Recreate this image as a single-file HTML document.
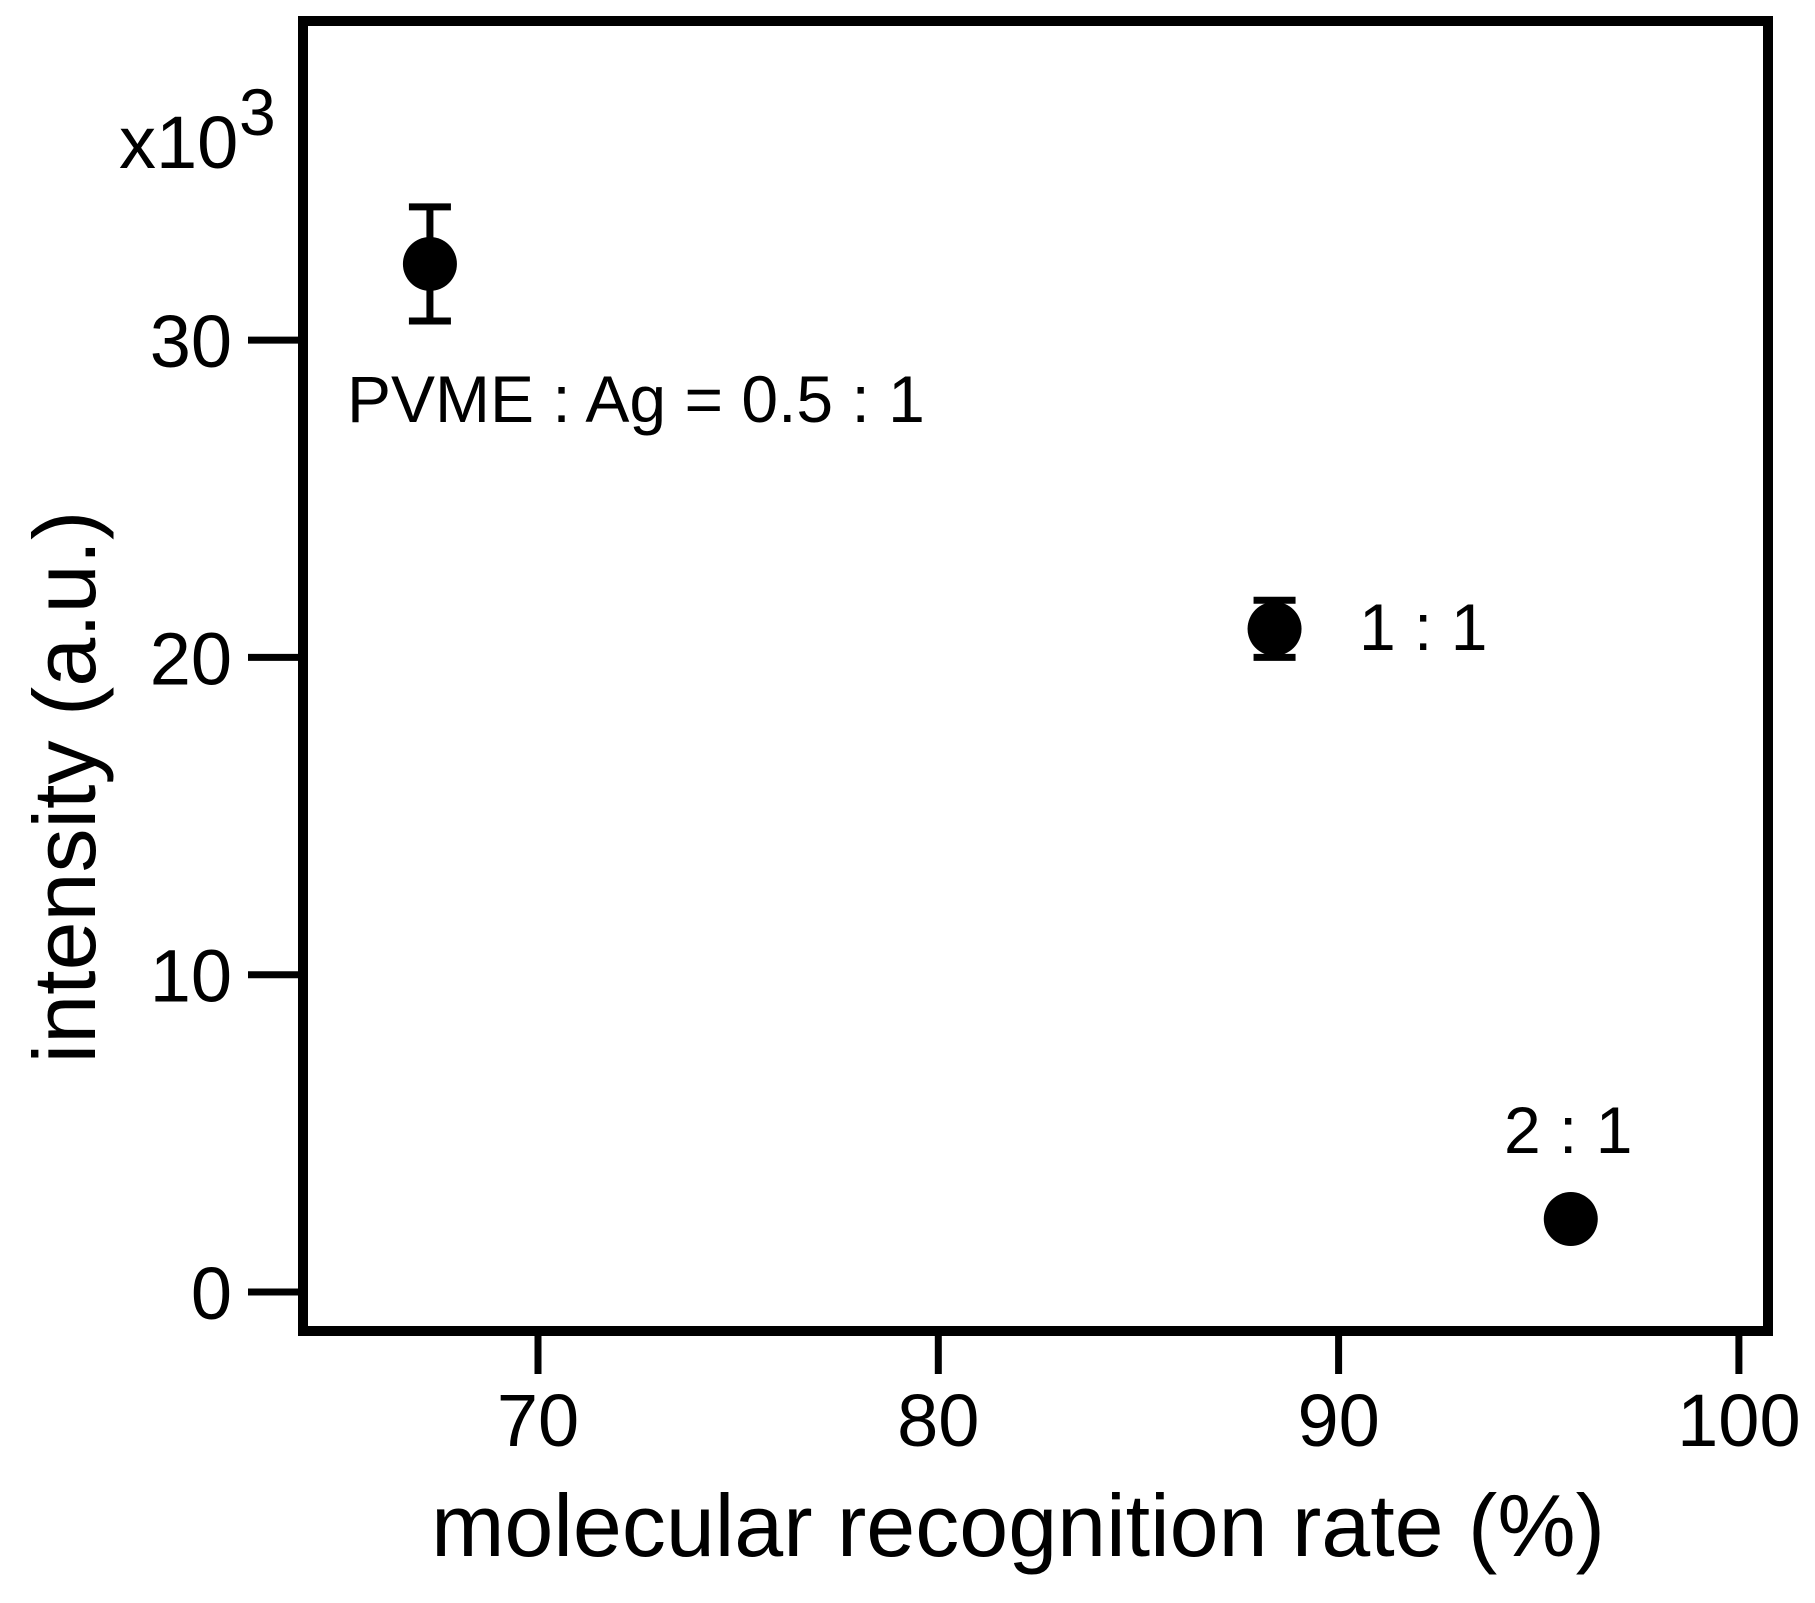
<!DOCTYPE html>
<html><head><meta charset="utf-8"><style>
html,body{margin:0;padding:0;background:#fff;}
svg text{font-family:"Liberation Sans",Arial,sans-serif;fill:#000;}
</style></head><body>
<svg width="1815" height="1598" viewBox="0 0 1815 1598" xmlns="http://www.w3.org/2000/svg">
<g id="axes"></g>
<g id="marks"></g>
</svg>
<script>
const xTicks = [70, 80, 90, 100];
const yTicks = [0, 10, 20, 30];
const xVals = [67.3, 88.4, 95.8];
const yVals = [32.4, 20.9, 2.3];
const yErr = [1.8, 0.9, 0];
const pointLabels = ["PVME : Ag = 0.5 : 1", "1 : 1", "2 : 1"];

const NS = "http://www.w3.org/2000/svg";
const L = 303, R = 1768, T = 21, B = 1331;
function sx(v){ return 538 + (v - 70) * 40.03; }
function sy(v){ return 1292 - v * 31.73; }
function mk(tag, attrs, parent){ const e = document.createElementNS(NS, tag); for (const k in attrs) e.setAttribute(k, attrs[k]); parent.appendChild(e); return e; }
const axes = document.getElementById('axes'), marks = document.getElementById('marks');

const frame = mk('rect', {x:L, y:T, width:R-L, height:B-T, fill:'none', stroke:'#000', 'stroke-width':10}, axes);



xTicks.forEach(v => {
  const t = mk('line', {x1:sx(v), x2:sx(v), y1:B, y2:1374, stroke:'#000', 'stroke-width':7}, axes);
  
  
  const tx = mk('text', {x:sx(v), y:1446, 'font-size':74, 'text-anchor':'middle'}, axes);
  tx.textContent = v;
  
  
});
yTicks.forEach(v => {
  const t = mk('line', {x1:248, x2:L, y1:sy(v), y2:sy(v), stroke:'#000', 'stroke-width':7}, axes);
  
  
  const tx = mk('text', {x:232, y:sy(v)+27, 'font-size':74, 'text-anchor':'end'}, axes);
  tx.textContent = v;
  
  
});

const xt = mk('text', {x:1018, y:1556, 'font-size':88, 'text-anchor':'middle'}, axes);
xt.textContent = 'molecular recognition rate (%)';


const yt = mk('text', {x:0, y:0, 'font-size':88, 'text-anchor':'middle', transform:'translate(95,787) rotate(-90)'}, axes);
yt.textContent = 'intensity (a.u.)';


const mult = mk('text', {x:119, y:168, 'font-size':74}, axes);
mult.textContent = 'x10';


const sup = mk('text', {x:239, y:135, 'font-size':66}, axes);
sup.textContent = '3';



const labelPos = [[347, 422], [1359, 650], [1504, 1153]];
xVals.forEach((xv, i) => {
  const cx = sx(xv), cy = sy(yVals[i]);
  if (yErr[i] > 0) {
    const top = sy(yVals[i] + yErr[i]), bot = sy(yVals[i] - yErr[i]);
    const g = mk('g', {stroke:'#000', 'stroke-width':7}, marks);
    
    
    mk('line', {x1:cx, x2:cx, y1:top, y2:bot}, g);
    mk('line', {x1:cx-21, x2:cx+21, y1:top, y2:top}, g);
    mk('line', {x1:cx-21, x2:cx+21, y1:bot, y2:bot}, g);
  }
  const c = mk('circle', {cx:cx, cy:cy, r:27, fill:'#000'}, marks);
  
  
  const lp = labelPos[i];
  const t = mk('text', {x:lp[0], y:lp[1], 'font-size':66}, marks);
  t.textContent = pointLabels[i];
  
  
});
</script>
</body></html>
